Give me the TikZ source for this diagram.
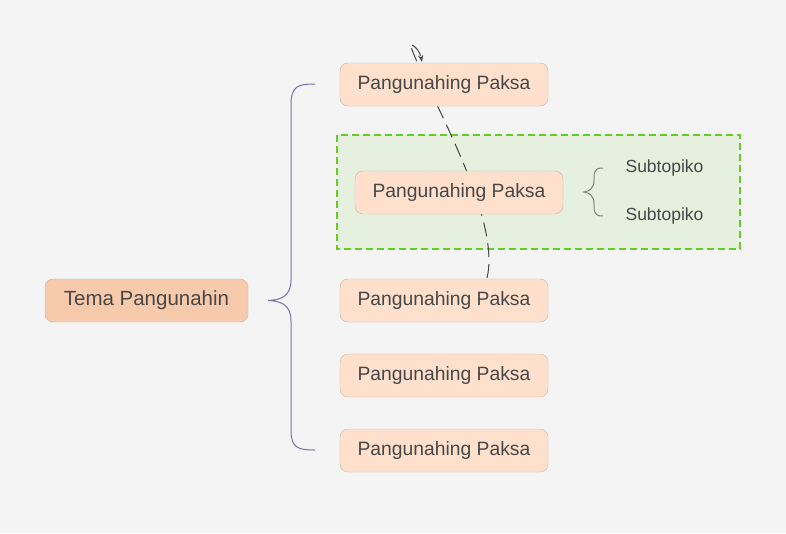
\documentclass[tikz,border=0pt]{standalone}
\usepackage{fontspec}
\setmainfont{Liberation Sans}
\usetikzlibrary{arrows.meta}
\definecolor{bg}{HTML}{F4F4F4}
\definecolor{mainf}{HTML}{F8CAAC}
\definecolor{childf}{HTML}{FFE0CC}
\definecolor{bord}{HTML}{C9B5A8}
\definecolor{txt}{HTML}{474747}
\definecolor{grn}{HTML}{66CC22}
\definecolor{grnf}{HTML}{E5F0DF}
\definecolor{purp}{HTML}{7B70B0}
\definecolor{gbr}{HTML}{7A8A70}
\tikzset{
 box/.style={draw=bord, rounded corners=8pt, text=txt, minimum height=43pt, inner sep=0pt},
 mainbox/.style={box, fill=mainf, minimum width=203pt, font=\fontsize{20.5}{24}\selectfont},
 childbox/.style={box, fill=childf, minimum width=208pt, font=\fontsize{19.3}{23}\selectfont},
 sub/.style={text=txt, font=\fontsize{17.5}{21}\selectfont},
}
\begin{document}
\begin{tikzpicture}[x=1pt,y=-1pt]
\useasboundingbox[fill=bg] (0,0) rectangle (786,533);
\draw[grn, fill=grnf, line width=2pt, dash pattern=on 7pt off 4pt] (337,135) rectangle (740,249);
\coordinate (s) at (487,278);
\coordinate (e) at (422,62);
\draw[txt, line width=1pt, dash pattern=on 14pt off 7pt, -{Stealth[length=7pt,open]}] (s) .. controls (502,215) and (425,90) .. (410,44) .. controls (416,46) and (420,52) .. (e);
\node[mainbox] (m) at (146.5,300.5) {Tema Pangunahin};
\node[childbox] (c1) at (444,84.5) {Pangunahing Paksa};
\node[childbox] (c2) at (459,192.5) {Pangunahing Paksa};
\node[childbox] (c3) at (444,300.5) {Pangunahing Paksa};
\node[childbox] (c4) at (444,375.5) {Pangunahing Paksa};
\node[childbox] (c5) at (444,450.5) {Pangunahing Paksa};
\node[sub] (s1) at (664.5,168) {Subtopiko};
\node[sub] (s2) at (664.5,216) {Subtopiko};
\draw[purp, line width=1pt] (315,84) .. controls (298,84) and (291,86) .. (291,105) -- (291,280) .. controls (291,297) and (280,300) .. (268,300.5) .. controls (280,301) and (291,304) .. (291,321) -- (291,430) .. controls (291,448) and (298,450) .. (315,450);
\draw[gbr, line width=1pt] (603,168) .. controls (594,168) and (594,172) .. (594,180) .. controls (594,188) and (590,191) .. (584,192) .. controls (590,193) and (594,196) .. (594,204) .. controls (594,212) and (594,216) .. (603,216);
\end{tikzpicture}
\end{document}
